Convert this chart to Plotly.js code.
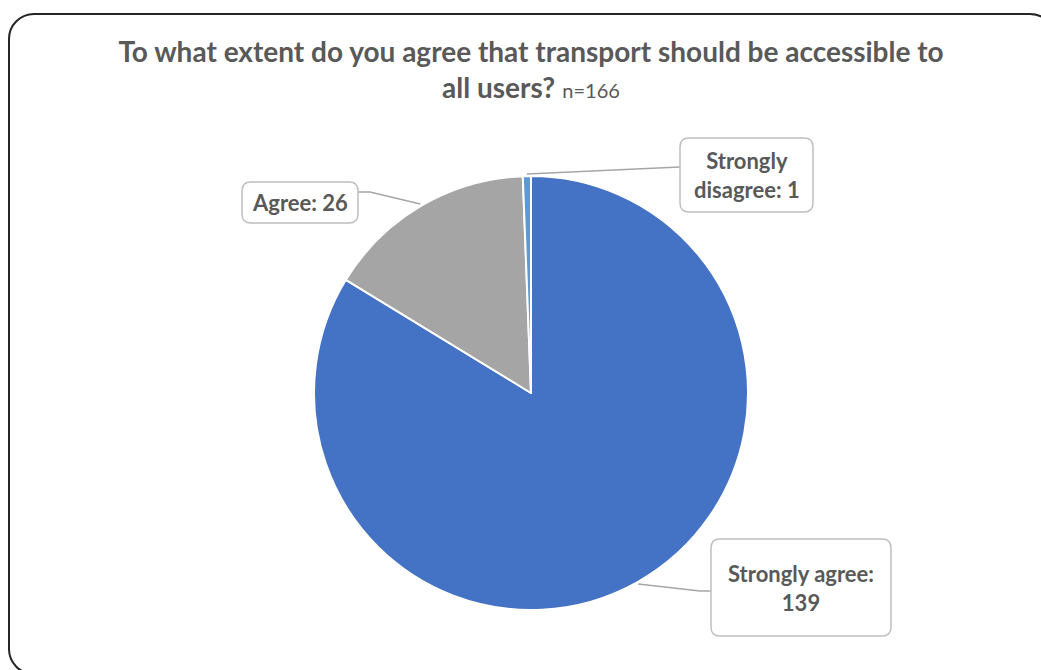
<!DOCTYPE html>
<html>
<head>
<meta charset="utf-8">
<script src="https://cdn.plot.ly/plotly-3.0.1.min.js"></script>
<style>
  html, body { margin: 0; padding: 0; background: #ffffff; overflow: hidden; }
  #wrap { position: relative; width: 1041px; height: 670px; }
  #chart { position: absolute; left: 0; top: 0; width: 1041px; height: 670px; }
  #frame { position: absolute; left: 8px; top: 13px; width: 1048px; height: 662px;
           border: 2px solid #262626; border-radius: 26px; box-sizing: border-box; pointer-events: none; }
</style>
</head>
<body>
<div id="wrap">
  <div id="chart"></div>
  <div id="frame"></div>
</div>
<script>
// ---- Data ----
const categories = ['Strongly agree', 'Agree', 'Strongly disagree'];
const values = [139, 26, 1];
const sliceColors = ['#4472C4', '#A5A5A5', '#5B9BD5'];
const sampleSize = 166;

// ---- Layout constants (pixels) ----
const W = 1041, H = 670;
const CX = 531, CY = 393, R = 217;
const px2x = p => p / W;
const py2y = p => 1 - p / H;

// label formatting
function labelText(i) {
  const c = categories[i], v = values[i];
  if (c === 'Strongly agree') return '<b>' + c + ':<br>' + v + '</b>';
  if (c === 'Strongly disagree') return '<b>Strongly<br>disagree: ' + v + '</b>';
  return '<b>' + c + ': ' + v + '</b>';
}

// label boxes (layout positions, pixels)
const boxes = [
  {cx: 801, cy: 587.5, w: 180, h: 97, elbow: [700, 591], anchor: [711, 591]},
  {cx: 300, cy: 202.5, w: 116, h: 41, elbow: [370, 192], anchor: [358, 192]},
  {cx: 746.5, cy: 175, w: 133, h: 74, elbow: null, anchor: [680, 167]}
];

const total = values.reduce((a, b) => a + b, 0);
const shapes = [];
const annotations = [];

function roundRectPath(b, r) {
  const x0 = b.cx - b.w / 2, x1 = b.cx + b.w / 2, y0 = b.cy - b.h / 2, y1 = b.cy + b.h / 2;
  const P = (x, y) => px2x(x) + ',' + py2y(y);
  return 'M' + P(x0 + r, y0) + ' L' + P(x1 - r, y0) + ' Q' + P(x1, y0) + ' ' + P(x1, y0 + r) +
         ' L' + P(x1, y1 - r) + ' Q' + P(x1, y1) + ' ' + P(x1 - r, y1) +
         ' L' + P(x0 + r, y1) + ' Q' + P(x0, y1) + ' ' + P(x0, y1 - r) +
         ' L' + P(x0, y0 + r) + ' Q' + P(x0, y0) + ' ' + P(x0 + r, y0) + ' Z';
}

let cum = 0;
values.forEach((v, i) => {
  const mid = (cum + v / 2) / total * 2 * Math.PI;
  cum += v;
  const ex = CX + (R + 2) * Math.sin(mid), ey = CY - (R + 2) * Math.cos(mid);
  const b = boxes[i];
  const pts = [[ex, ey]];
  if (b.elbow) pts.push(b.elbow);
  pts.push(b.anchor);
  const path = pts.map((p, k) => (k === 0 ? 'M' : 'L') + px2x(p[0]) + ',' + py2y(p[1])).join(' ');
  shapes.push({type: 'path', xref: 'paper', yref: 'paper', path: path,
               line: {color: '#A6A6A6', width: 1.5}, layer: 'above'});
});

boxes.forEach((b, i) => {
  shapes.push({type: 'path', xref: 'paper', yref: 'paper', path: roundRectPath(b, 9),
               fillcolor: '#FFFFFF', line: {color: '#BFBFBF', width: 1.5}, layer: 'above'});
  annotations.push({xref: 'paper', yref: 'paper', x: px2x(b.cx), y: py2y(b.cy),
                    xanchor: 'center', yanchor: 'middle', showarrow: false,
                    text: labelText(i), align: 'center',
                    font: {family: 'Lato, sans-serif', size: 22, color: '#595959'}});
});

const trace = {
  type: 'pie',
  labels: categories,
  values: values,
  sort: false,
  direction: 'clockwise',
  rotation: 0,
  textinfo: 'none',
  hoverinfo: 'label+value',
  marker: {colors: sliceColors, line: {color: '#FFFFFF', width: 2}},
  domain: {x: [px2x(CX - R), px2x(CX + R)], y: [py2y(CY + R), py2y(CY - R)]},
  showlegend: false
};

const layout = {
  width: W, height: H,
  margin: {l: 0, r: 0, t: 0, b: 0},
  paper_bgcolor: '#FFFFFF',
  showlegend: false,
  title: {
    text: '<b>To what extent do you agree that transport should be accessible to<br>all users?</b> <span style="font-size:20px;font-weight:normal">n=' + sampleSize + '</span>',
    font: {family: 'Lato, sans-serif', size: 28, color: '#595959'},
    x: px2x(531), xanchor: 'center',
    y: py2y(62), yanchor: 'top', yref: 'container', xref: 'paper'
  },
  shapes: shapes,
  annotations: annotations
};

Plotly.newPlot('chart', [trace], layout, {displayModeBar: false, staticPlot: true});
</script>
</body>
</html>
